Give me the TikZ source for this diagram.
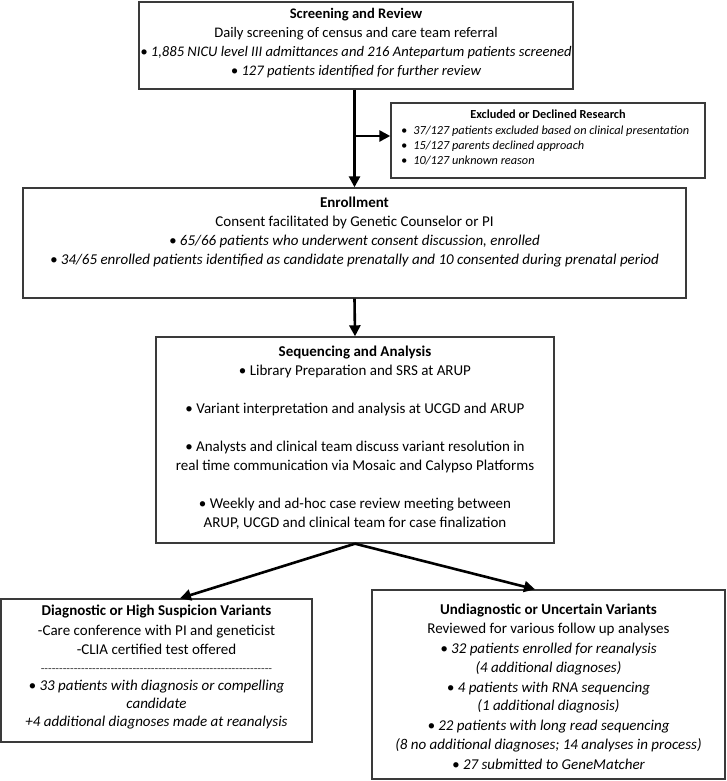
\documentclass[tikz,border=0pt]{standalone}
\usepackage{fontspec}
\setmainfont{Carlito}
\usetikzlibrary{arrows.meta}
\definecolor{boxcol}{HTML}{3A3A3A}
\newcommand\hyp{-\kern0pt}
\newcommand\hten{\hyp\hyp\hyp\hyp\hyp\hyp\hyp\hyp\hyp\hyp}
\begin{document}
\begin{tikzpicture}[x=1pt,y=-1pt,
  box/.style={draw=boxcol, line width=1.4pt, inner sep=0pt, fill=white},
  txt/.style={anchor=mid, inner sep=0pt, font=\fontsize{15}{17}\selectfont},
  ttl/.style={txt, font=\fontsize{15}{17}\selectfont\bfseries},
  itx/.style={txt, font=\fontsize{15}{17}\selectfont\itshape},
  ttxt/.style={txt, font=\fontsize{14.6}{17}\selectfont},
  tttl/.style={txt, font=\fontsize{14.6}{17}\selectfont\bfseries},
  titx/.style={txt, font=\fontsize{14.6}{17}\selectfont\itshape},
  stxt/.style={anchor=mid west, inner sep=0pt, font=\fontsize{12.3}{14}\selectfont\itshape},
  sttl/.style={anchor=mid, inner sep=0pt, font=\fontsize{12.3}{14}\selectfont\bfseries},
  arr/.style={line width=2.6pt, -{Triangle[length=11pt,width=11pt]}}
]
\useasboundingbox (0,0) rectangle (726,781);
% boxes
\node[box, minimum width=434pt, minimum height=87pt] (screen) at (356,45.5) {};
\node[box, minimum width=314pt, minimum height=75pt] (excl) at (548,140.5) {};
\node[box, minimum width=663pt, minimum height=110pt] (enroll) at (354.5,243) {};
\node[box, minimum width=398pt, minimum height=206pt] (seq) at (355,440) {};
\node[box, minimum width=311pt, minimum height=143pt] (diag) at (156.5,670.5) {};
\node[box, minimum width=353pt, minimum height=189pt] (undiag) at (548.5,684.5) {};

% screening text
\node[tttl] (s1) at (356,16) {Screening and Review};
\node[ttxt] (s2) at (356,35) {Daily screening of census and care team referral};
\node[titx] (s3) at (356,54) {• 1,885 NICU level III admittances and 216 Antepartum patients screened};
\node[titx] (s4) at (356,73) {• 127 patients identified for further review};

% excluded text
\node[sttl] (e1) at (548,116) {Excluded or Declined Research};
\node[stxt] (e2) at (401,132) {•\hspace{6pt}37/127 patients excluded based on clinical presentation};
\node[stxt] (e3) at (401,147) {•\hspace{6pt}15/127 parents declined approach};
\node[stxt] (e4) at (401,162.5) {•\hspace{6pt}10/127 unknown reason};

% enrollment text
\node[ttl] (n1) at (354.5,205) {Enrollment};
\node[txt] (n2) at (354.5,224) {Consent facilitated by Genetic Counselor or PI};
\node[itx] (n3) at (354.5,243) {• 65/66 patients who underwent consent discussion, enrolled};
\node[itx] (n4) at (354.5,262) {• 34/65 enrolled patients identified as candidate prenatally and 10 consented during prenatal period};

% sequencing text
\node[ttl] (q1) at (355,354) {Sequencing and Analysis};
\node[txt] (q2) at (355,373) {• Library Preparation and SRS at ARUP};
\node[txt] (q3) at (355,411) {• Variant interpretation and analysis at UCGD and ARUP};
\node[txt] (q4) at (355,449) {• Analysts and clinical team discuss variant resolution in};
\node[txt] (q5) at (355,468) {real time communication via Mosaic and Calypso Platforms};
\node[txt] (q6) at (355,506) {• Weekly and ad-hoc case review meeting between};
\node[txt] (q7) at (355,525) {ARUP, UCGD and clinical team for case finalization};

% diagnostic text
\node[ttl] (d1) at (156.5,613) {Diagnostic or High Suspicion Variants};
\node[txt] (d2) at (156.5,633) {-Care conference with PI and geneticist};
\node[txt] (d3) at (156.5,652) {-CLIA certified test offered};
\node[txt, font=\fontsize{12}{14}\selectfont, text=boxcol] (d4) at (156.5,670) {\hten\hten\hten\hten\hten\hten\hyp\hyp\hyp};
\node[itx] (d5) at (156.5,688) {• 33 patients with diagnosis or compelling};
\node[itx] (d6) at (156.5,706) {candidate};
\node[itx] (d7) at (156.5,724) {+4 additional diagnoses made at reanalysis};

% undiagnostic text
\node[ttl] (u1) at (548.5,612) {Undiagnostic or Uncertain Variants};
\node[txt] (u2) at (548.5,631) {Reviewed for various follow up analyses};
\node[itx] (u3) at (548.5,651) {• 32 patients enrolled for reanalysis};
\node[itx] (u4) at (548.5,670) {(4 additional diagnoses)};
\node[itx] (u5) at (548.5,690) {• 4 patients with RNA sequencing};
\node[itx] (u6) at (548.5,708) {(1 additional diagnosis)};
\node[itx] (u7) at (548.5,728) {• 22 patients with long read sequencing};
\node[itx] (u8) at (548.5,747) {(8 no additional diagnoses; 14 analyses in process)};
\node[itx] (u9) at (548.5,767) {• 27 submitted to GeneMatcher};

% connectors
\coordinate (top) at (screen.south -| enroll.north);
\coordinate (j) at (354.5,136);
\draw[arr] (top) -- (enroll.north);
\draw[arr] (j) -- (j -| excl.west);
\draw[arr] (enroll.south) -- (seq.north);
\draw[arr] (seq.south) -- ([xshift=23.5pt]diag.north);
\draw[arr] (seq.south) -- ([xshift=-13.5pt]undiag.north);
\end{tikzpicture}
\end{document}
